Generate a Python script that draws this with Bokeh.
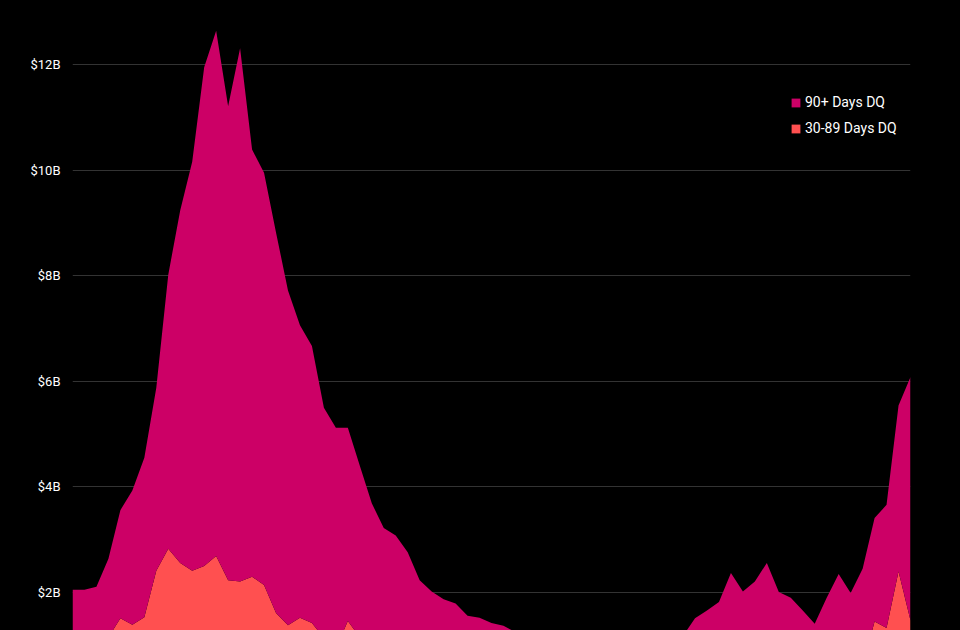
from bokeh.plotting import figure
from bokeh.models import ColumnDataSource, FixedTicker, Legend, LegendItem, Range1d
from bokeh.embed import file_html
from bokeh.resources import INLINE

# ---- data (billions of dollars, quarterly index) ----
quarter_index = list(range(71))

dq_30_89 = [1.00, 1.00, 1.05, 1.15, 1.51, 1.39, 1.53, 2.41, 2.83, 2.56,
            2.41, 2.50, 2.69, 2.23, 2.21, 2.30, 2.14, 1.61, 1.38, 1.52,
            1.42, 1.14, 0.94, 1.46, 1.15, 1.05, 0.98, 0.95, 0.90, 0.85,
            0.80, 0.78, 0.75, 0.72, 0.70, 0.68, 0.66, 0.64, 0.62, 0.60,
            0.58, 0.57, 0.56, 0.55, 0.55, 0.55, 0.56, 0.58, 0.60, 0.62,
            0.64, 0.66, 0.70, 0.72, 0.75, 0.85, 0.80, 0.82, 0.90, 0.85,
            0.82, 0.78, 0.72, 0.80, 0.90, 0.85, 0.60, 1.45, 1.33, 2.40,
            1.47]

dq_90_plus = [1.05, 1.05, 1.06, 1.49, 2.05, 2.54, 3.02, 3.47, 5.19, 6.68,
              7.75, 9.45, 9.95, 8.98, 10.10, 8.09, 7.81, 7.21, 6.34, 5.54,
              5.25, 4.36, 4.18, 3.66, 3.25, 2.64, 2.24, 2.13, 1.86, 1.38,
              1.22, 1.09, 1.04, 0.84, 0.82, 0.74, 0.71, 0.61, 0.56, 0.50,
              0.47, 0.43, 0.42, 0.40, 0.38, 0.37, 0.39, 0.42, 0.45, 0.48,
              0.51, 0.52, 0.81, 0.94, 1.07, 1.52, 1.22, 1.39, 1.66, 1.16,
              1.08, 0.88, 0.69, 1.10, 1.45, 1.14, 1.85, 1.96, 2.33, 3.14,
              4.61]

y_tick_values = [2, 4, 6, 8, 10, 12]
y_tick_labels = ["$2B", "$4B", "$6B", "$8B", "$10B", "$12B"]

series_names = ["30-89 Days DQ", "90+ Days DQ"]
series_colors = ["#FF5050", "#CC0066"]

source = ColumnDataSource(data=dict(x=quarter_index, dq30=dq_30_89, dq90=dq_90_plus))

p = figure(width=960, height=630, output_backend="svg", toolbar_location=None,
           x_range=Range1d(0, 70), y_range=Range1d(1.2803, 13.2121),
           background_fill_color="black", border_fill_color="black",
           min_border_left=72, min_border_right=50, min_border_top=0, min_border_bottom=0)
p.outline_line_color = None

renderers = p.varea_stack(["dq30", "dq90"], x="x", source=source, color=series_colors)

p.xaxis.visible = False
p.xgrid.grid_line_color = None
p.ygrid.grid_line_color = "#333333"
p.ygrid.grid_line_width = 1

yax = p.yaxis[0]
yax.ticker = FixedTicker(ticks=y_tick_values)
yax.major_label_overrides = {v: l for v, l in zip(y_tick_values, y_tick_labels)}
yax.axis_line_color = None
yax.major_tick_line_color = None
yax.minor_tick_line_color = None
yax.major_tick_out = 0
yax.major_label_standoff = 12
yax.major_label_text_color = "#ffffff"
yax.major_label_text_font = "Roboto"
yax.major_label_text_font_size = "13px"

legend = Legend(items=[LegendItem(label=series_names[1], renderers=[renderers[1]]),
                       LegendItem(label=series_names[0], renderers=[renderers[0]])],
                location=(718, 494), orientation="vertical")
legend.background_fill_alpha = 0
legend.border_line_color = None
legend.margin = 0
legend.padding = 0
legend.glyph_width = 11
legend.glyph_height = 11
legend.label_height = 11
legend.spacing = 10
legend.label_standoff = 4
legend.label_text_color = "#ffffff"
legend.label_text_font = "Roboto"
legend.label_text_font_size = "14px"
p.add_layout(legend, "center")

html = file_html(p, INLINE, title="Delinquent balances")
html = html.replace("<head>", "<head><style>html,body{background:#000;overflow:hidden;}</style>", 1)
open("out.html", "w").write(html)
